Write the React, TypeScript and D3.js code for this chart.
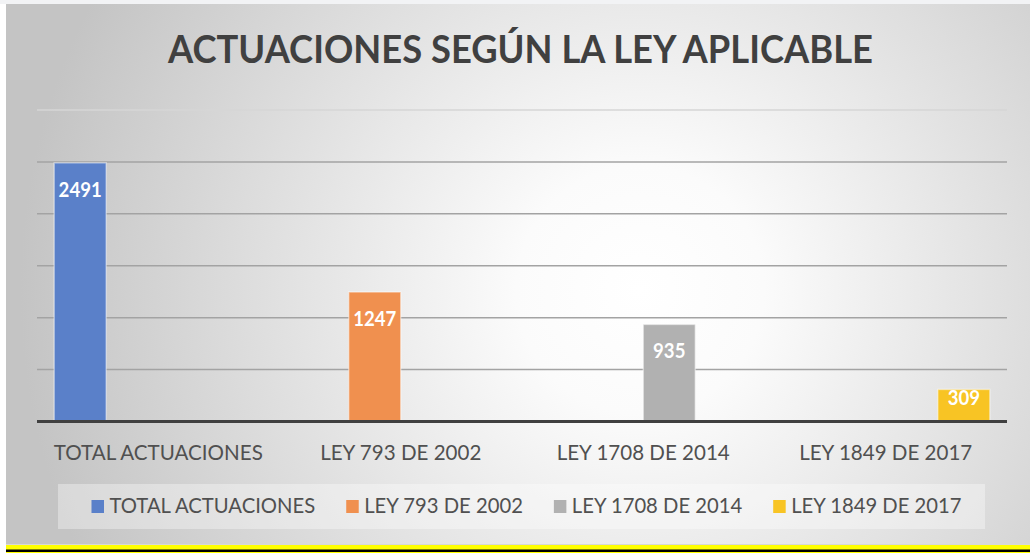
import React from 'react';
import * as d3 from 'd3';

const title = 'ACTUACIONES SEGÚN LA LEY APLICABLE';
const categories = ['TOTAL ACTUACIONES', 'LEY 793 DE 2002', 'LEY 1708 DE 2014', 'LEY 1849 DE 2017'];
const seriesNames = ['TOTAL ACTUACIONES', 'LEY 793 DE 2002', 'LEY 1708 DE 2014', 'LEY 1849 DE 2017'];
const totalActuaciones = [2491, null, null, null];
const ley793 = [null, 1247, null, null];
const ley1708 = [null, null, 935, null];
const ley1849 = [null, null, null, 309];
const yTicks = [0, 500, 1000, 1500, 2000, 2500, 3000];
const seriesColors = ['#5a80c9', '#f0904f', '#b1b1b1', '#f8c424'];

const seriesValues = [totalActuaciones, ley793, ley1708, ley1849];

const W = 1030;
const H = 555;
const FONT = 'Lato, "Open Sans", sans-serif';
const LABEL_SIZE = 22;
const CONDENSE = 0.93;

let ctx: CanvasRenderingContext2D | null = null;
function measure(text: string, size: number, weight = 400): number {
  if (!ctx) ctx = document.createElement('canvas').getContext('2d');
  if (!ctx) return text.length * size * 0.5;
  ctx.font = `${weight} ${size}px Lato, "Open Sans", sans-serif`;
  return ctx.measureText(text).width;
}

export default function App() {
  const x0 = d3.scaleBand<string>().domain(categories).range([37, 1007]).padding(0);
  const x1 = d3
    .scaleBand<string>()
    .domain(seriesNames)
    .range([0, x0.bandwidth()])
    .paddingInner(0)
    .paddingOuter(0.33);
  const y = d3.scaleLinear().domain([0, 3000]).range([421.5, 110]);

  const GAP = 31;
  const legendItems: { mx: number; tx: number; tw: number }[] = [];
  let cursor = 0;
  seriesNames.forEach((s) => {
    const tw = measure(s, LABEL_SIZE) * 0.915;
    legendItems.push({ mx: cursor, tx: cursor + 18, tw });
    cursor += 18 + tw + GAP;
  });
  const legendWidth = cursor - GAP;
  const legendStart = 526.5 - legendWidth / 2;

  return (
    <div style={{ position: 'absolute', left: 0, top: 0 }}>
      <svg width={W} height={H} style={{ display: 'block' }} fontFamily={FONT}>
        <defs>
          <radialGradient id="bg" gradientUnits="userSpaceOnUse" cx={640} cy={290} r={620}>
            <stop offset="0" stopColor="#ffffff" />
            <stop offset="0.2" stopColor="#fbfbfb" />
            <stop offset="1" stopColor="#c4c4c4" />
          </radialGradient>
        </defs>
        <rect x={0} y={0} width={W} height={H} fill="#ffffff" />
        <rect x={0} y={0} width={W} height={4} fill="#f2f3f5" />
        <rect x={6} y={4} width={W - 6} height={541} fill="url(#bg)" />
        <line x1={6} x2={W} y1={544.5} y2={544.5} stroke="#d8d8d8" strokeWidth={1} />
        <rect x={6} y={545} width={W - 6} height={8} fill="#ffff00" />
        <rect x={6} y={549.5} width={W - 6} height={2.5} fill="#000000" />

        <text x={168} y={63} fontSize={38} fontWeight={700} fill="#404040" textLength={705} lengthAdjust="spacingAndGlyphs">
          {title}
        </text>

        {yTicks.map((t) =>
          t === 0 ? null : (
            <line
              key={t}
              x1={37}
              x2={1007}
              y1={y(t)}
              y2={y(t)}
              stroke={t === 3000 ? '#d6d6d6' : '#a3a3a3'}
              strokeWidth={1.5}
            />
          )
        )}

        {seriesValues.map((vals, si) =>
          vals.map((v, ci) => {
            if (v == null) return null;
            const bx = (x0(categories[ci]) as number) + (x1(seriesNames[si]) as number);
            const bw = x1.bandwidth();
            const top = y(v);
            const base = y(0);
            const label = String(v);
            return (
              <g key={`${si}-${ci}`}>
                <rect
                  x={bx}
                  y={top}
                  width={bw}
                  height={base - top}
                  fill={seriesColors[si]}
                  stroke="#ffffff"
                  strokeOpacity={0.45}
                  strokeWidth={1.5}
                />
                <text
                  x={bx + bw / 2}
                  y={Math.min(top + 34, base - 17)}
                  textAnchor="middle"
                  fontSize={20}
                  fontWeight={700}
                  fill="#ffffff"
                  textLength={measure(label, 20, 700) * 0.93}
                  lengthAdjust="spacingAndGlyphs"
                >
                  {label}
                </text>
              </g>
            );
          })
        )}

        <line x1={37} x2={1007} y1={y(0)} y2={y(0)} stroke="#404040" strokeWidth={3} />

        {categories.map((c) => (
          <text
            key={c}
            x={(x0(c) as number) + x0.bandwidth() / 2}
            y={460}
            textAnchor="middle"
            fontSize={LABEL_SIZE}
            fill="#505050"
            textLength={measure(c, LABEL_SIZE) * CONDENSE}
            lengthAdjust="spacingAndGlyphs"
          >
            {c}
          </text>
        ))}

        <rect x={58} y={484} width={927} height={45} fill="#ffffff" fillOpacity={0.35} />
        {seriesNames.map((s, i) => (
          <g key={s}>
            <rect x={legendStart + legendItems[i].mx} y={500} width={12.5} height={13} fill={seriesColors[i]} />
            <text
              x={legendStart + legendItems[i].tx}
              y={513}
              fontSize={LABEL_SIZE}
              fill="#505050"
              textLength={legendItems[i].tw}
              lengthAdjust="spacingAndGlyphs"
            >
              {s}
            </text>
          </g>
        ))}
      </svg>
    </div>
  );
}
